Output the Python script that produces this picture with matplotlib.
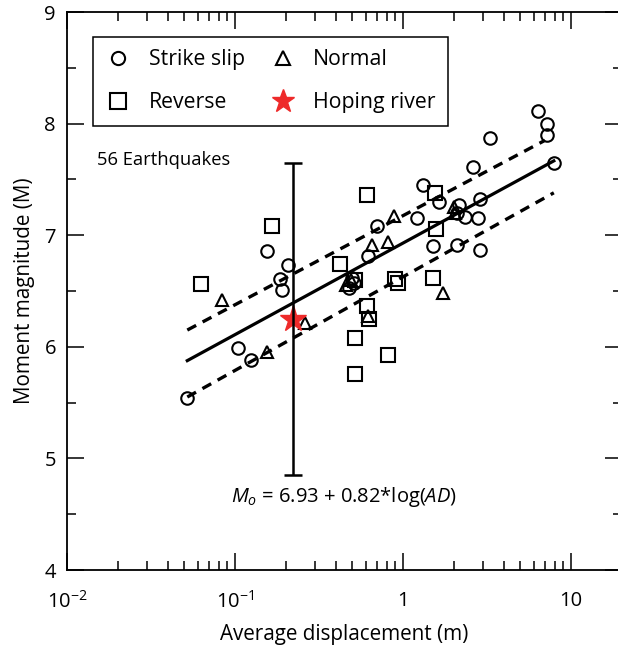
import matplotlib.pyplot as plt
from matplotlib.lines import Line2D
from matplotlib.ticker import FixedLocator, FixedFormatter, LogLocator, NullFormatter, MultipleLocator
import numpy as np

plt.rcParams['font.family'] = ['Open Sans', 'DejaVu Sans']
plt.rcParams['mathtext.fontset'] = 'custom'
plt.rcParams['mathtext.rm'] = 'Open Sans'
plt.rcParams['mathtext.it'] = 'Open Sans:italic'

# Strike slip (circulos)
ss_ad = [0.052, 0.104, 0.124, 0.155, 0.185, 0.19, 0.206, 0.51, 0.48, 0.50, 0.62, 0.70,
         1.21, 1.31, 1.64, 1.51, 2.10, 2.87, 2.10, 2.15, 2.33, 2.87, 2.80, 2.61, 3.30,
         6.36, 7.2, 7.2, 7.9]
ss_m = [5.54, 5.99, 5.88, 6.86, 6.61, 6.51, 6.735, 6.57, 6.53, 6.62, 6.81, 7.08,
        7.15, 7.45, 7.30, 6.90, 6.91, 6.87, 7.20, 7.27, 7.16, 7.32, 7.15, 7.61, 7.87,
        8.11, 8.00, 7.90, 7.65]

# Reverse (cuadrados)
rv_ad = [0.063, 0.166, 0.42, 0.61, 0.52, 0.93, 0.90, 0.61, 0.63, 0.52, 0.52, 0.815,
         1.51, 1.57, 1.55]
rv_m = [6.56, 7.08, 6.74, 7.36, 6.60, 6.57, 6.61, 6.37, 6.25, 6.08, 5.76, 5.93,
        6.62, 7.06, 7.38]

# Normal (triangulos)
nm_ad = [0.084, 0.155, 0.26, 0.65, 0.81, 0.88, 0.46, 0.49, 0.62, 1.73, 2.0, 2.05]
nm_m = [6.42, 5.95, 6.21, 6.91, 6.94, 7.17, 6.55, 6.60, 6.28, 6.48, 7.25, 7.20]

# Hoping river
hp_ad = [0.22]
hp_m = [6.25]
hp_err = [1.4]

# Lineas de regresion (extremos)
fit_ad = [0.052, 7.9]
fit_m = [5.876, 7.666]
up_ad = [0.052, 7.0]
up_m = [6.15, 7.85]
lo_ad = [0.052, 7.9]
lo_m = [5.55, 7.38]

# Figura
fig = plt.figure(figsize=(6.18, 6.48), dpi=100)
ax = fig.add_axes([67 / 618, 78 / 648, 554.6 / 618, 558 / 648])

mk = dict(linestyle='none', markerfacecolor='none', markeredgecolor='black', markeredgewidth=1.5)
ax.plot(ss_ad, ss_m, marker='o', markersize=9, **mk)
ax.plot(rv_ad, rv_m, marker='s', markersize=9.5, **mk)
ax.plot(nm_ad, nm_m, marker='^', markersize=8.5, **mk)

ax.plot(fit_ad, fit_m, color='black', linewidth=2.3)
ax.plot(up_ad, up_m, color='black', linewidth=2.4, linestyle=(0, (3, 2.2)))
ax.plot(lo_ad, lo_m, color='black', linewidth=2.4, linestyle=(0, (3, 2.2)))

ax.plot(hp_ad, hp_m, marker='*', markersize=20, color='#ee2a2a', linestyle='none', zorder=3)
ax.errorbar(hp_ad, hp_m, yerr=hp_err, fmt='none', ecolor='black', elinewidth=1.8,
            capsize=6.5, capthick=1.8, zorder=4)

# Ejes
ax.set_xscale('log')
ax.set_xlim(0.01, 20)
ax.set_ylim(4, 9)
ax.xaxis.set_major_locator(FixedLocator([0.01, 0.1, 1, 10]))
ax.xaxis.set_major_formatter(FixedFormatter(['$10^{-2}$', '$10^{-1}$', '1', '10']))
ax.xaxis.set_minor_locator(LogLocator(base=10, subs=np.arange(2, 10)))
ax.xaxis.set_minor_formatter(NullFormatter())
ax.yaxis.set_major_locator(MultipleLocator(1))
ax.yaxis.set_minor_locator(MultipleLocator(0.5))
ax.tick_params(which='both', direction='in', top=True, right=True, width=1.1, labelsize=14.5)
ax.tick_params(which='major', length=12)
ax.tick_params(which='minor', length=6.5)
ax.tick_params(axis='x', which='major', pad=15)
ax.tick_params(axis='y', which='major', pad=8)
for s in ax.spines.values():
    s.set_linewidth(1.3)

ax.set_xlabel('Average displacement (m)', fontsize=14.9, labelpad=8)
ax.set_ylabel('Moment magnitude (M)', fontsize=14.9, labelpad=7)

ax.text(0.054, 0.735, '56 Earthquakes', transform=ax.transAxes, fontsize=13.2, va='center')
ax.text(0.50, 0.131, r'$\mathit{M_o}$ = 6.93 + 0.82*log($\mathit{AD}$)', transform=ax.transAxes,
        fontsize=14.5, ha='center', va='center')

# Leyenda
handles = [
    Line2D([], [], marker='o', markersize=9.5, **mk),
    Line2D([], [], marker='s', markersize=12, **mk),
    Line2D([], [], marker='^', markersize=9.5, **mk),
    Line2D([], [], marker='*', markersize=17, color='#ee2a2a', linestyle='none'),
]
labels = ['Strike slip', 'Reverse', 'Normal', 'Hoping river']
leg = ax.legend(handles, labels, ncol=2, loc='upper left', bbox_to_anchor=(0.047, 0.955),
                borderaxespad=0, fontsize=15.3, frameon=True, fancybox=False,
                edgecolor='black', framealpha=1, handlelength=1.2, handletextpad=0.83,
                columnspacing=1.2, labelspacing=1.03, borderpad=0.58)
leg.get_frame().set_linewidth(1.1)

fig.savefig('out.png', dpi=100)
